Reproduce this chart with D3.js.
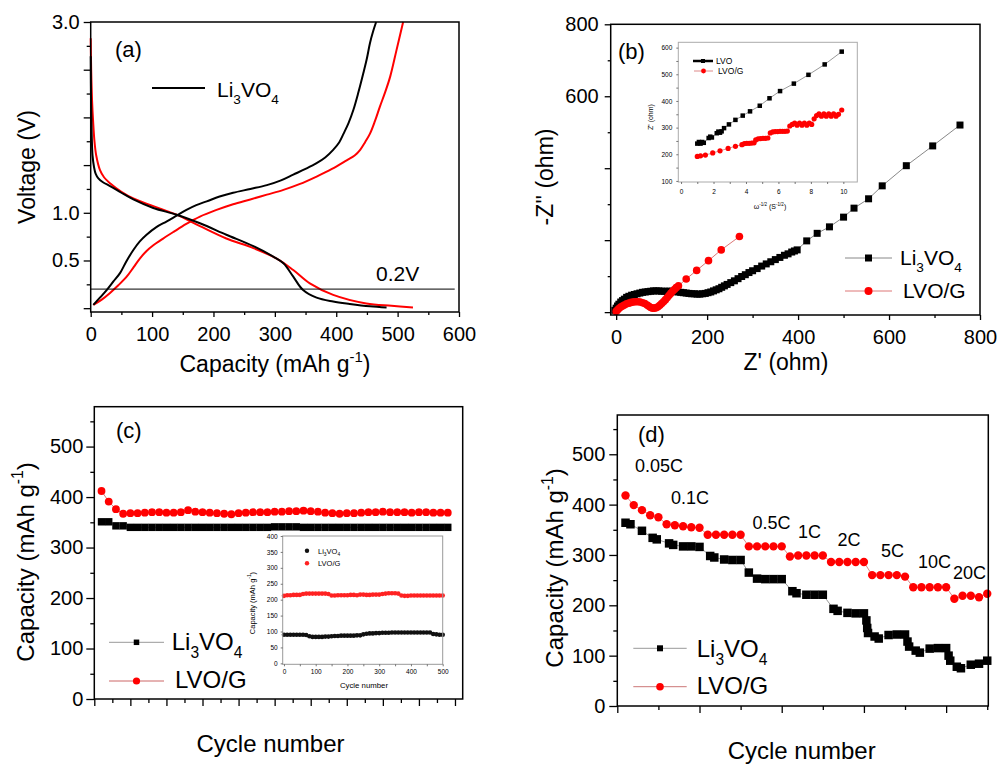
<!DOCTYPE html>
<html lang="en">
<head>
<meta charset="UTF-8">
<title>Li3VO4 and LVO/G</title>
<style>
  body { margin: 0; background: #fff; }
  svg { display: block; }
</style>
</head>
<body>
<svg width="998" height="766"></svg>
<script src="https://d3js.org/d3.v7.min.js"></script>
<script>
const FONT = '"Liberation Sans", Arial, sans-serif';

// ---- (a) charge / discharge profiles
const aDisBlackCap = [0, 0.5, 1.6, 3, 5.4, 8, 12.5, 20, 31.5, 50, 69.5, 102, 140, 178, 221, 265, 297.5, 314, 330, 346, 368, 395, 422, 455, 482];
const aDisBlackV   = [2.64, 2.2, 1.83, 1.6, 1.48, 1.41, 1.36, 1.32, 1.28, 1.21, 1.14, 1.05, 0.98, 0.89, 0.77, 0.65, 0.54, 0.47, 0.33, 0.19, 0.11, 0.07, 0.045, 0.02, 0.007];
const aDisRedCap = [0, 0.8, 2.2, 4, 6, 9, 15, 22, 31.5, 50, 69.5, 102, 140, 178, 221, 265, 303, 330, 357, 395, 449, 490, 525];
const aDisRedV   = [2.83, 2.5, 2.18, 1.95, 1.76, 1.6, 1.45, 1.37, 1.31, 1.22, 1.15, 1.07, 0.98, 0.86, 0.73, 0.63, 0.52, 0.40, 0.26, 0.14, 0.05, 0.025, 0.007];
const aChBlackCap = [4.3, 15, 26, 37, 48, 58, 69.5, 80, 91, 107, 124, 140, 156, 172, 189, 210, 232, 260, 287, 310, 330, 350, 368, 382, 395, 405, 412, 420, 428, 436, 444, 450, 455, 460, 465];
const aChBlackV   = [0.035, 0.11, 0.19, 0.28, 0.37, 0.49, 0.61, 0.70, 0.77, 0.85, 0.91, 0.97, 1.03, 1.08, 1.12, 1.17, 1.21, 1.25, 1.29, 1.34, 1.40, 1.46, 1.52, 1.58, 1.66, 1.74, 1.83, 1.94, 2.08, 2.26, 2.46, 2.62, 2.78, 2.9, 3.0];
const aChRedCap = [4.3, 18, 31.5, 45, 58.6, 70, 80, 91, 102, 118, 135, 155, 178, 205, 232, 260, 287, 314, 340, 368, 393, 417, 430, 439, 447, 455, 463, 471, 480, 488, 498, 509];
const aChRedV   = [0.035, 0.09, 0.16, 0.24, 0.33, 0.43, 0.52, 0.60, 0.66, 0.73, 0.80, 0.88, 0.96, 1.03, 1.09, 1.14, 1.19, 1.24, 1.30, 1.38, 1.46, 1.55, 1.60, 1.66, 1.74, 1.83, 1.96, 2.11, 2.27, 2.43, 2.7, 3.0];
const aCutoff = 0.2;

// ---- (b) Nyquist plots
const bLvoRe = [-3, 0, 3, 6, 10, 14, 18, 23, 28, 34, 40, 46, 52, 58, 64, 70, 76, 82, 88, 94, 100, 106, 112, 118, 124, 130, 136, 142, 148, 154, 160, 166, 172, 178, 184, 190, 196, 202, 208, 214, 220, 226, 232, 238, 244, 252, 260, 268, 276, 284, 292, 300, 310, 320, 330, 340, 350, 360, 370, 378, 386, 392, 398, 419, 442, 469, 500, 523, 555, 585, 638, 696, 756];
const bLvoIm = [5, 11, 17, 22, 28, 32, 36, 41, 44, 47, 49, 51, 53, 55, 56, 57, 58, 59, 59, 59, 58, 58, 58, 58, 58, 57, 56, 55, 54, 53, 52, 51, 51, 50, 50, 51, 52, 54, 56, 59, 62, 65, 69, 73, 77, 82, 87, 93, 99, 104, 110, 115, 121, 128, 134, 140, 146, 152, 158, 162, 167, 170, 173, 198, 219, 237, 264, 289, 315, 351, 407, 462, 520];
const bLvogRe = [0, 3, 6, 10, 14, 18, 23, 28, 33, 38, 43, 48, 53, 58, 63, 68, 72, 76, 80, 84, 88, 92, 96, 100, 104, 108, 112, 116, 120, 124, 128, 132, 137, 154, 177, 203, 231, 271];
const bLvogIm = [2, 6, 10, 14, 17, 20, 23, 25, 27, 28, 29, 29, 28, 26, 24, 20, 16, 13, 11, 11, 12, 15, 19, 24, 29, 34, 40, 46, 52, 58, 63, 68, 73, 92, 116, 143, 173, 210];
// inset: Z' vs omega^-1/2
const bInLvoW = [1.0, 1.1, 1.2, 1.3, 1.4, 1.7, 1.8, 1.9, 2.2, 2.3, 2.4, 2.5, 2.65, 2.95, 3.35, 3.8, 4.25, 4.85, 5.45, 6.1, 6.95, 7.85, 8.85, 9.9];
const bInLvoZ = [240, 246, 240, 246, 243, 261, 266, 263, 279, 285, 281, 286, 298, 312, 329, 345, 361, 382, 410, 437, 465, 498, 537, 585];
const bInLvogW = [1.0, 1.2, 1.5, 1.95, 2.4, 2.9, 3.35, 3.75, 3.9, 4.05, 4.2, 4.35, 4.5, 4.6, 4.75, 4.9, 5.05, 5.2, 5.35, 5.5, 5.65, 5.8, 5.95, 6.1, 6.25, 6.4, 6.55, 6.7, 6.85, 7.0, 7.15, 7.3, 7.45, 7.6, 7.75, 7.9, 8.05, 8.2, 8.35, 8.5, 8.65, 8.8, 8.95, 9.1, 9.25, 9.4, 9.55, 9.7, 9.9];
const bInLvogZ = [192, 194, 197, 205, 213, 222, 230, 236, 240, 241, 241, 242, 243, 254, 258, 259, 260, 260, 261, 280, 284, 285, 285, 286, 286, 286, 287, 306, 312, 317, 309, 317, 309, 317, 309, 317, 312, 333, 345, 352, 343, 352, 343, 352, 343, 352, 343, 350, 366];

// ---- (c) cycling
const cCycles = d3.range(10, 491, 10);
const cLvoCap = [351, 351, 343, 343, 340, 340, 340, 340, 340, 340, 340, 340, 340, 340, 340, 340, 340, 340, 340, 340, 340, 340, 340, 340, 341, 341, 341, 341, 340, 340, 340, 340, 340, 340, 340, 340, 340, 340, 340, 340, 340, 340, 340, 340, 340, 340, 340, 340, 340];
const cLvogCap = [412, 391, 376, 367, 368, 368, 369, 370, 370, 369, 369, 370, 374, 371, 370, 369, 368, 367, 366, 368, 369, 370, 370, 370, 371, 371, 372, 372, 373, 372, 371, 369, 368, 367, 368, 368, 369, 370, 370, 371, 370, 370, 370, 369, 370, 370, 369, 369, 369];
const cInCycles = d3.range(0, 501, 10);
const cInLvoCap = [90, 90, 90, 90, 90, 90, 90, 89, 85, 83, 83, 83, 83, 84, 84, 85, 86, 86, 87, 87, 87, 87, 87, 88, 88, 91, 93, 94, 94, 95, 95, 96, 96, 96, 97, 97, 97, 97, 97, 97, 97, 97, 97, 97, 97, 97, 97, 92, 91, 90, 90];
const cInLvogCap = [212, 214, 214, 215, 215, 215, 218, 219, 219, 219, 219, 219, 219, 219, 218, 213, 213, 214, 214, 214, 214, 215, 215, 214, 216, 216, 215, 215, 216, 216, 216, 218, 219, 220, 220, 220, 219, 213, 212, 212, 213, 213, 213, 213, 213, 213, 213, 213, 213, 213, 213];

// ---- (d) rate performance
const dRedCycles = d3.range(1, 46);
const dRedCap = [418, 399, 389, 379, 375, 361, 359, 357, 355, 354, 340, 340, 340, 340, 340, 317, 317, 317, 317, 317, 297, 299, 299, 299, 299, 286, 286, 286, 286, 286, 260, 260, 260, 260, 257, 236, 236, 236, 236, 236, 213, 219, 219, 216, 223];
const dBlackCycles = [1, 1.6, 3, 4.3, 4.8, 6.3, 6.8, 8, 9, 10, 11.3, 11.8, 13, 14, 15, 16, 17, 18, 19, 20, 21.3, 21.8, 23, 24, 25, 26.3, 26.8, 28, 29, 30, 30.3, 30.4, 30.5, 31.3, 31.8, 33, 34, 35, 35.3, 35.5, 36.3, 36.8, 38, 39, 40, 40.3, 40.5, 41.3, 41.8, 43, 44, 45];
const dBlackCap = [364, 361, 348, 334, 331, 323, 320, 317, 317, 316, 298, 295, 291, 290, 290, 265, 253, 252, 252, 252, 228, 224, 221, 221, 221, 193, 189, 185, 184, 184, 170, 155, 145, 138, 134, 141, 142, 142, 128, 118, 110, 106, 114, 115, 115, 100, 90, 78, 75, 82, 84, 90];
const dRates = ["0.05C", "0.1C", "0.5C", "1C", "2C", "5C", "10C", "20C"];

const svg = d3.select("svg").attr("font-family", FONT);
svg.append("rect").attr("width", 998).attr("height", 766).attr("fill", "#fff");

// helpers
function box(x, y, color, sw) {
  const [x0, x1] = x.range(), [yb, yt] = y.range();
  svg.append("rect").attr("x", x0).attr("y", yt).attr("width", x1 - x0).attr("height", yb - yt)
    .attr("fill", "none").attr("stroke", color || "#000").attr("stroke-width", sw || 1.5);
}

function ticks(orient, scale, pos, values, size, o = {}) {
  const ax = (orient === "left" ? d3.axisLeft(scale) : d3.axisBottom(scale))
    .tickValues(values).tickSizeInner(size).tickSizeOuter(0).tickPadding(o.pad || 3)
    .tickFormat(d => (o.labels || []).some(v => Math.abs(v - d) < 1e-9) ? (o.fmt || String)(d) : "");
  const g = svg.append("g")
    .attr("transform", orient === "left" ? `translate(${pos},0)` : `translate(0,${pos})`)
    .call(ax);
  g.select(".domain").remove();
  g.selectAll("line").attr("stroke", o.color || "#000").attr("stroke-width", o.sw || 1.3);
  g.selectAll("text").attr("font-size", o.fs || 20).attr("font-family", FONT).attr("fill", "#000");
}

// text with sub / superscript parts
function rich(x, y, fs, parts, o = {}) {
  const t = svg.append("text").attr("x", x).attr("y", y).attr("font-size", fs)
    .attr("text-anchor", o.anchor || "start").attr("fill", "#000");
  if (o.rotate) t.attr("transform", `rotate(-90,${x},${y})`);
  let shift = 0;
  parts.forEach(p => {
    const [s, k] = Array.isArray(p) ? p : [p, null];
    const target = k === "sub" ? fs * 0.33 : k === "sup" ? -fs * 0.42 : 0;
    t.append("tspan").attr("dy", target - shift).attr("font-size", k ? fs * 0.65 : fs).text(s);
    shift = target;
  });
  return t;
}
const LVO = ["Li", ["3", "sub"], "VO", ["4", "sub"]];
const CAP = ["Capacity (mAh g", ["-1", "sup"], ")"];

function series(x, y, xs, ys, o) {
  const pts = xs.map((v, i) => [x(v), y(ys[i])]);
  if (o.line) svg.append("path").attr("d", d3.line()(pts)).attr("fill", "none")
    .attr("stroke", o.line).attr("stroke-width", o.lw || 1);
  const g = svg.append("g");
  if (o.square) g.selectAll("rect").data(pts).join("rect")
    .attr("x", d => d[0] - o.square / 2).attr("y", d => d[1] - o.square / 2)
    .attr("width", o.square).attr("height", o.square).attr("fill", o.fill);
  if (o.r) g.selectAll("circle").data(pts).join("circle")
    .attr("cx", d => d[0]).attr("cy", d => d[1]).attr("r", o.r).attr("fill", o.fill);
}

function legendRow(x0, x1, y, lineColor, mark, size, fill, lw) {
  svg.append("line").attr("x1", x0).attr("x2", x1).attr("y1", y).attr("y2", y)
    .attr("stroke", lineColor).attr("stroke-width", lw || 1);
  const cx = (x0 + x1) / 2;
  if (mark === "square") svg.append("rect").attr("x", cx - size / 2).attr("y", y - size / 2)
    .attr("width", size).attr("height", size).attr("fill", fill);
  if (mark === "circle") svg.append("circle").attr("cx", cx).attr("cy", y).attr("r", size).attr("fill", fill);
}

// ================= (a)
{
  const x = d3.scaleLinear().domain([0, 600]).range([90.7, 459]);
  const y = d3.scaleLinear().domain([-0.04, 3.0]).range([312, 22]);
  const line = d3.line().curve(d3.curveCatmullRom.alpha(0.5));
  const draw = (xs, ys, c) => svg.append("path")
    .attr("d", line(xs.map((v, i) => [x(v), y(ys[i])])))
    .attr("fill", "none").attr("stroke", c).attr("stroke-width", 2);
  draw(aDisRedCap, aDisRedV, "#f00");
  draw(aChRedCap, aChRedV, "#f00");
  draw(aDisBlackCap, aDisBlackV, "#000");
  draw(aChBlackCap, aChBlackV, "#000");
  svg.append("line").attr("x1", x(0)).attr("x2", x(593)).attr("y1", y(aCutoff)).attr("y2", y(aCutoff))
    .attr("stroke", "#000").attr("stroke-width", 1);
  box(x, y);
  ticks("left", y, 90.7, [0.25, 0.75, 1.25, 1.75, 2.25, 2.75], 4);
  ticks("left", y, 90.7, [0, 0.5, 1, 1.5, 2, 2.5, 3], 7, { labels: [0.5, 1, 3], fmt: d3.format(".1f"), pad: 4 });
  ticks("bottom", x, 312, d3.range(50, 600, 100), 3);
  ticks("bottom", x, 312, d3.range(0, 601, 100), 5, { labels: d3.range(0, 601, 100), pad: 10 });
  svg.append("text").attr("x", 115).attr("y", 57).attr("font-size", 22).text("(a)");
  svg.append("text").attr("x", 376).attr("y", 281).attr("font-size", 21).text("0.2V");
  legendRow(152, 205, 88, "#000", null, 0, null, 2);
  rich(217, 97, 21, LVO);
  rich(275, 372, 23, CAP, { anchor: "middle" });
  rich(35, 167, 23, ["Voltage (V)"], { anchor: "middle", rotate: true });
}

// ================= (b)
{
  const x = d3.scaleLinear().domain([-12, 800]).range([610.7, 980]);
  const y = d3.scaleLinear().domain([-8, 800]).range([315, 24.3]);
  series(x, y, bLvoRe, bLvoIm, { line: "#888", square: 7, fill: "#000" });
  series(x, y, bLvogRe, bLvogIm, { line: "#d77", r: 3.8, fill: "#f00" });
  box(x, y);
  ticks("left", y, 610.7, [100, 300, 500, 700], 3);
  ticks("left", y, 610.7, [0, 200, 400, 600, 800], 6, { labels: [600, 800], pad: 6 });
  ticks("bottom", x, 315, [100, 300, 500, 700], 3);
  ticks("bottom", x, 315, [0, 200, 400, 600, 800], 5, { labels: [0, 200, 400, 600, 800], pad: 10 });
  svg.append("text").attr("x", 618).attr("y", 59).attr("font-size", 22).text("(b)");
  legendRow(845, 892, 258, "#888", "square", 7, "#000");
  rich(900, 265, 21, LVO);
  legendRow(845, 892, 291, "#d77", "circle", 4, "#f00");
  svg.append("text").attr("x", 903).attr("y", 298).attr("font-size", 21).text("LVO/G");
  rich(786, 370, 23, ["Z' (ohm)"], { anchor: "middle" });
  rich(553, 177, 23, ["-Z'' (ohm)"], { anchor: "middle", rotate: true });

  // inset
  const xi = d3.scaleLinear().domain([-0.17, 10.86]).range([678.3, 857.3]);
  const yi = d3.scaleLinear().domain([96, 620]).range([182, 42.3]);
  series(xi, yi, bInLvoW, bInLvoZ, { line: "#999", square: 4.5, fill: "#000" });
  series(xi, yi, bInLvogW, bInLvogZ, { line: "#d99", r: 2.6, fill: "#f00" });
  box(xi, yi, "#aaa", 1);
  ticks("left", yi, 678.3, d3.range(100, 601, 50), 2, { labels: d3.range(100, 601, 100), fs: 6.5, pad: 4, color: "#555", sw: 0.8 });
  ticks("bottom", xi, 182, d3.range(0, 11, 1), 2, { labels: d3.range(0, 11, 2), fs: 6.5, pad: 5, color: "#555", sw: 0.8 });
  legendRow(693, 713, 61, "#000", "square", 4, "#000", 2.5);
  svg.append("text").attr("x", 716).attr("y", 63.5).attr("font-size", 8.5).text("LVO");
  legendRow(694, 713, 71, "#d88", "circle", 2.4, "#f00");
  svg.append("text").attr("x", 718).attr("y", 74).attr("font-size", 8.5).text("LVO/G");
  rich(770, 209, 7, ["\u03c9", ["-1/2", "sup"], " (S", ["-1/2", "sup"], ")"], { anchor: "middle" });
  rich(653, 117, 7, ["Z' (ohm)"], { anchor: "middle", rotate: true });
}

// ================= (c)
{
  const x = d3.scaleLinear().domain([0, 510.7]).range([94.3, 462.7]);
  const y = d3.scaleLinear().domain([0, 579]).range([699, 406.7]);
  series(x, y, cCycles, cLvoCap, { line: "#888", square: 7.4, fill: "#000" });
  series(x, y, cCycles, cLvogCap, { line: "#d77", r: 3.9, fill: "#f00" });
  box(x, y);
  ticks("left", y, 94.3, d3.range(50, 580, 100), 4);
  ticks("left", y, 94.3, d3.range(0, 501, 100), 8, { labels: d3.range(0, 501, 100), pad: 3 });
  ticks("bottom", x, 699, d3.range(25, 501, 50), 4);
  ticks("bottom", x, 699, d3.range(0, 501, 50), 7);
  svg.append("text").attr("x", 116).attr("y", 438).attr("font-size", 22).text("(c)");
  legendRow(109, 164, 642.3, "#999", "square", 5.5, "#000");
  rich(171.7, 650, 24, LVO);
  legendRow(109, 164, 681, "#c66", "circle", 3.6, "#f00");
  svg.append("text").attr("x", 175).attr("y", 688).attr("font-size", 24).text("LVO/G");
  rich(270.5, 752, 24, ["Cycle number"], { anchor: "middle" });
  rich(33.5, 562, 24, CAP, { anchor: "middle", rotate: true });

  // inset
  const xi = d3.scaleLinear().domain([-4, 500]).range([282.7, 442.7]);
  const yi = d3.scaleLinear().domain([-3, 400]).range([664.3, 536]);
  series(xi, yi, cInCycles, cInLvoCap, { r: 2.3, fill: "#111" });
  series(xi, yi, cInCycles, cInLvogCap, { r: 2.3, fill: "#f22" });
  box(xi, yi, "#999", 1);
  ticks("left", yi, 282.7, d3.range(0, 401, 50), 2, { labels: d3.range(0, 401, 50), fs: 6.5, pad: 3, color: "#555", sw: 0.8 });
  ticks("bottom", xi, 664.3, d3.range(0, 501, 50), 2, { labels: d3.range(0, 501, 100), fs: 6.5, pad: 3, color: "#555", sw: 0.8 });
  svg.append("circle").attr("cx", 307).attr("cy", 550.7).attr("r", 2.2).attr("fill", "#111");
  rich(318, 553.5, 7.5, LVO);
  svg.append("circle").attr("cx", 307).attr("cy", 563.3).attr("r", 2.2).attr("fill", "#f22");
  svg.append("text").attr("x", 318).attr("y", 566).attr("font-size", 7.5).text("LVO/G");
  rich(364, 688, 7.8, ["Cycle number"], { anchor: "middle" });
  rich(254.5, 603, 7.5, CAP, { anchor: "middle", rotate: true });
}

// ================= (d)
{
  const x = d3.scaleLinear().domain([0, 45.13]).range([617.3, 988.3]);
  const y = d3.scaleLinear().domain([0, 578]).range([706, 415]);
  series(x, y, dBlackCycles, dBlackCap, { line: "#999", square: 8.5, fill: "#000" });
  series(x, y, dRedCycles, dRedCap, { line: "#d88", r: 4.2, fill: "#f00" });
  box(x, y);
  ticks("left", y, 617.3, d3.range(50, 580, 100), 4);
  ticks("left", y, 617.3, d3.range(0, 501, 100), 8, { labels: d3.range(0, 501, 100), pad: 4 });
  ticks("bottom", x, 706, [5, 15, 25, 35, 45], 4);
  ticks("bottom", x, 706, [0, 10, 20, 30, 40], 7);
  svg.append("text").attr("x", 638).attr("y", 442).attr("font-size", 22).text("(d)");
  const rateX = [635, 671, 752.5, 798, 837.5, 881, 918, 953];
  const rateY = [471.7, 504, 529, 537.7, 545.7, 556.7, 568.3, 579.3];
  dRates.forEach((r, i) => svg.append("text").attr("x", rateX[i]).attr("y", rateY[i]).attr("font-size", 18).text(r));
  legendRow(633.3, 686.7, 648.3, "#999", "square", 6, "#000");
  rich(696.7, 656.7, 24, LVO);
  legendRow(633.3, 686.7, 686.7, "#c77", "circle", 3.8, "#f00");
  svg.append("text").attr("x", 696.7).attr("y", 693.5).attr("font-size", 24).text("LVO/G");
  rich(801.7, 759, 24, ["Cycle number"], { anchor: "middle" });
  rich(563, 568, 24, CAP, { anchor: "middle", rotate: true });
}
</script>
</body>
</html>
